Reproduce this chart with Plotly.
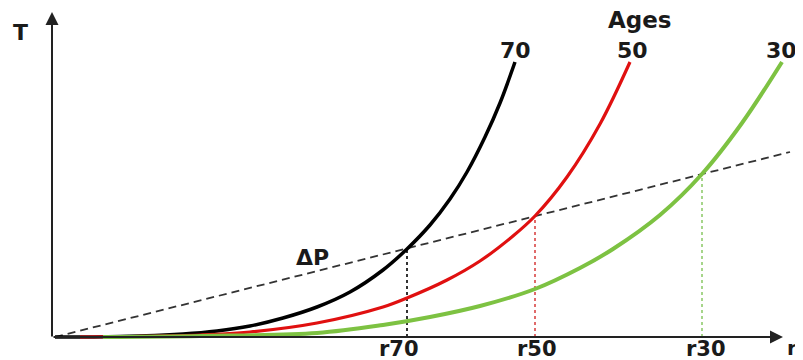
import plotly.graph_objects as go

# ---- data (r and T in arbitrary schematic units) ----
ages = ["70", "50", "30"]
colors = ["#000000", "#e01010", "#7dc242"]
drop_colors = ["#333333", "#e06a6a", "#a6d58a"]
line_widths = [3.5, 3.2, 4]

r_70 = [0, 65, 128, 162, 195, 228, 262, 295, 328, 352, 375, 395, 412, 430, 445, 460]
T_70 = [0, 0.5, 3, 6, 11, 19, 30, 45, 67, 88, 112, 138, 165, 200, 234, 275]

r_50 = [25, 75, 145, 195, 262, 328, 352, 392, 425, 458, 480, 512, 545, 575]
T_50 = [0, 0.5, 2, 5, 14, 30, 39, 57, 76, 101, 121, 160, 213, 275]

r_30 = [48, 145, 262, 328, 375, 425, 480, 525, 558, 605, 647, 687, 727]
T_30 = [0, 1, 4, 12, 20, 31, 48, 69, 88, 122, 163, 214, 275]

dp_r = [0, 735]
dp_T = [0, 185]

r_cross = [352, 480, 647]
T_cross = [89, 121, 163]
tick_labels = ["r70", "r50", "r30"]
tick_pos = [344, 482, 651]

curves = [(r_70, T_70), (r_50, T_50), (r_30, T_30)]

FONT = "DejaVu Sans"
TXT = "#1a1a1a"

fig = go.Figure()

# dashed Delta-P line
fig.add_trace(go.Scatter(x=dp_r, y=dp_T, mode="lines",
                         line=dict(color="#333333", width=1.8, dash="8px,5px"),
                         hoverinfo="skip"))

# vertical drop lines
for i in range(3):
    fig.add_trace(go.Scatter(x=[r_cross[i], r_cross[i]], y=[0, T_cross[i]],
                             mode="lines",
                             line=dict(color=drop_colors[i], width=2, dash="dot"),
                             hoverinfo="skip"))

# age curves
for i, (rr, tt) in enumerate(curves):
    fig.add_trace(go.Scatter(x=rr, y=tt, mode="lines",
                             line=dict(color=colors[i], width=line_widths[i],
                                       shape="spline", smoothing=1.0),
                             hoverinfo="skip"))

annotations = []
# axes as arrows
annotations.append(dict(x=728, y=0, ax=-3, ay=0, xref="x", yref="y",
                        axref="x", ayref="y", showarrow=True, text="",
                        arrowhead=2, arrowsize=1.3, arrowwidth=2,
                        arrowcolor="#222222"))
annotations.append(dict(x=-3, y=325, ax=-3, ay=-1, xref="x", yref="y",
                        axref="x", ayref="y", showarrow=True, text="",
                        arrowhead=2, arrowsize=1.3, arrowwidth=2,
                        arrowcolor="#222222"))

def label(txt, x, y, size=22):
    annotations.append(dict(x=x, y=y, xref="x", yref="y", text="<b>" + txt + "</b>",
                            showarrow=False, xanchor="center", yanchor="middle",
                            font=dict(family=FONT, size=size, color=TXT)))

label("T", -35, 305)
label("r", 737, -11, 20)
label("Ages", 585, 317, 23)
for i, a in enumerate(ages):
    label(a, [460, 577, 726][i], 287)
label("ΔP", 257, 80)
for i in range(3):
    label(tick_labels[i], tick_pos[i], -12, 21)

fig.update_layout(
    width=795, height=352,
    margin=dict(l=0, r=0, t=0, b=0),
    paper_bgcolor="white", plot_bgcolor="white",
    showlegend=False,
    xaxis=dict(range=[-47, 748], visible=False, fixedrange=True),
    yaxis=dict(range=[-23, 329], visible=False, fixedrange=True),
    annotations=annotations,
)

fig.write_html("out.html")
